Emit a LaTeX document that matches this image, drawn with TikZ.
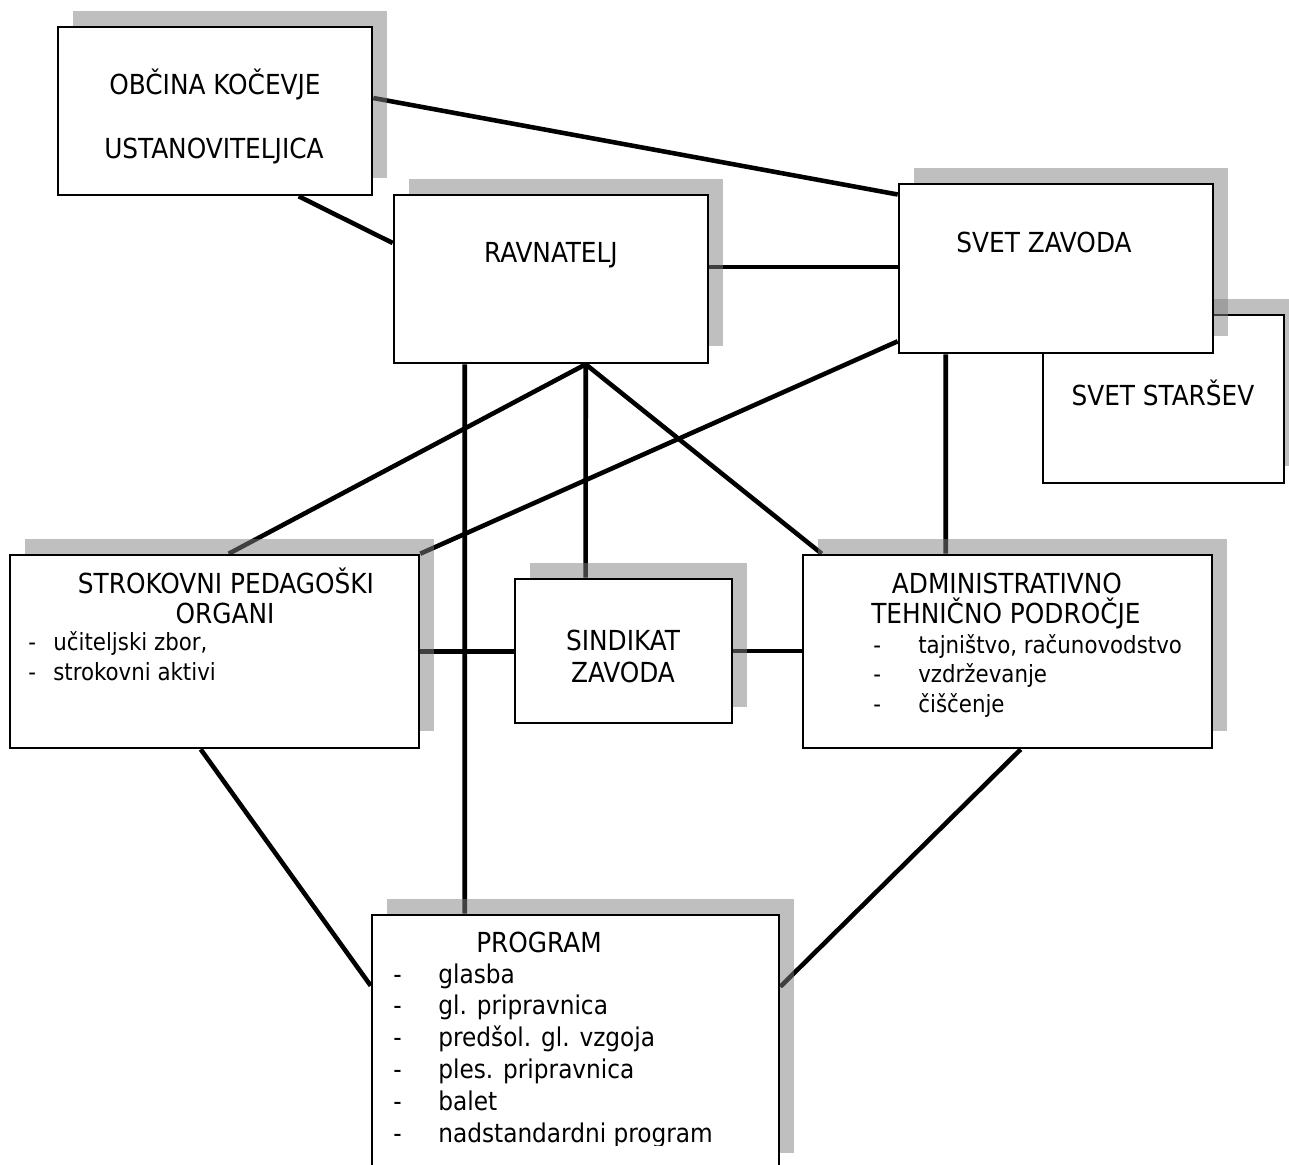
\documentclass[tikz,border=0pt]{standalone}
\usepackage{fontspec}
\setmainfont{DejaVu Sans Condensed}
\usetikzlibrary{shadows,backgrounds}

\tikzset{
  orgbox/.style={draw, line width=1.5pt, fill=white, inner sep=0pt,
    drop shadow={shadow xshift=0.3cm, shadow yshift=0.33cm, opacity=0.5, fill=black!50}},
  orgtext/.style={anchor=base, inner sep=0pt, font=\fontsize{15.7}{19}\selectfont},
  itemtext/.style={anchor=base west, inner sep=0pt, font=\fontsize{13.5}{16}\selectfont},
  prgitem/.style={itemtext, font=\fontsize{14.7}{18}\selectfont},
  link/.style={line width=2.6pt, black},
}

\begin{document}
\begin{tikzpicture}[x=0.02cm, y=-0.02cm]
    \useasboundingbox (0,0) rectangle (1289,1164);
    \clip (0,0) rectangle (1289,1164);

    % Boxes with their grey shadows
    \node[orgbox, minimum width=6.28cm, minimum height=3.36cm] (obc) at (215,111) {};
    \node[orgbox, minimum width=6.28cm, minimum height=3.36cm] (rav) at (551,279) {};
    \node[orgbox, minimum width=4.82cm, minimum height=3.36cm] (sst) at (1163.5,399) {};
    \node[orgbox, minimum width=6.28cm, minimum height=3.38cm] (svz) at (1056,268.5) {};
    \node[orgbox, minimum width=8.18cm, minimum height=3.86cm] (spo) at (214.5,651.5) {};
    \node[orgbox, minimum width=4.34cm, minimum height=2.88cm] (sin) at (623.5,651) {};
    \node[orgbox, minimum width=8.18cm, minimum height=3.86cm] (atp) at (1007.5,651.5) {};
    \node[orgbox, minimum width=8.14cm, minimum height=5.10cm] (prg) at (575.5,1042.5) {};

    % Titles
    \node[orgtext] (obc-1) at (215,94) {OBČINA KOČEVJE};
    \node[orgtext] (obc-2) at (214,158) {USTANOVITELJICA};
    \node[orgtext] (rav-t) at (551,262) {RAVNATELJ};
    \node[orgtext] (svz-t) at (1044,252) {SVET ZAVODA};
    \node[orgtext] (sst-t) at (1163,405) {SVET STARŠEV};
    \node[orgtext] (spo-1) at (226,593) {STROKOVNI PEDAGOŠKI};
    \node[orgtext] (spo-2) at (225,623) {ORGANI};
    \node[orgtext] (sin-1) at (623,650) {SINDIKAT};
    \node[orgtext] (sin-2) at (623,682) {ZAVODA};
    \node[orgtext] (atp-1) at (1007,593) {ADMINISTRATIVNO};
    \node[orgtext] (atp-2) at (1006,623) {TEHNIČNO PODROČJE};
    \node[orgtext] (prg-t) at (539,952) {PROGRAM};

    % Item lists
    \foreach \t [count=\i] in {{učiteljski zbor,}, strokovni aktivi}
        \node[itemtext] (spo-i\i) at (28,620.5+30*\i) {\makebox[0.5cm][l]{-}\t};
    \foreach \t [count=\i] in {{tajništvo, računovodstvo}, vzdrževanje, čiščenje}
        \node[itemtext] (atp-i\i) at (873,623.5+29.5*\i) {\makebox[0.9cm][l]{-}\t};
    \begin{scope}
        \clip (372,915) rectangle (779,1145);
        \foreach \t [count=\i] in {glasba, gl. pripravnica, predšol. gl. vzgoja,
                                   ples. pripravnica, balet, nadstandardni program}
            \node[prgitem] (prg-i\i) at (393,951.2+31.8*\i) {\makebox[0.9cm][l]{-}\t};
    \end{scope}

    % Connections (under the shadows)
    \coordinate (fan) at ([shift={(193,0)}]rav.south west);
    \begin{pgfonlayer}{background}
        \draw[link] ([shift={(0,-13)}]obc.east) -- ([shift={(0,-74)}]svz.west);
        \draw[link] ([shift={(242,0)}]obc.south west) -- ([shift={(0,-36)}]rav.west);
        \draw[link] ([shift={(0,-12)}]rav.east) -- ([shift={(0,-1.5)}]svz.west);
        \draw[link] ([shift={(72,0)}]rav.south west) -- ([shift={(94,0)}]prg.north west);
        \draw[link] (fan) -- ([shift={(220,0)}]spo.north west);
        \draw[link] (fan) -- ([shift={(72,0)}]sin.north west);
        \draw[link] (fan) -- ([shift={(20,0)}]atp.north west);
        \draw[link] ([shift={(0,-13)}]svz.south west) -- (spo.north east);
        \draw[link] ([shift={(48,0)}]svz.south west) -- ([shift={(144,0)}]atp.north west);
        \draw[link] (spo.east) -- (spo.east -| sin.west);
        \draw[link] (sin.east) -- (sin.east -| atp.west);
        \draw[link] ([shift={(192,0)}]spo.south west) -- ([shift={(0,72)}]prg.north west);
        \draw[link] ([shift={(219,0)}]atp.south west) -- ([shift={(0,73)}]prg.north east);
    \end{pgfonlayer}
\end{tikzpicture}
\end{document}
